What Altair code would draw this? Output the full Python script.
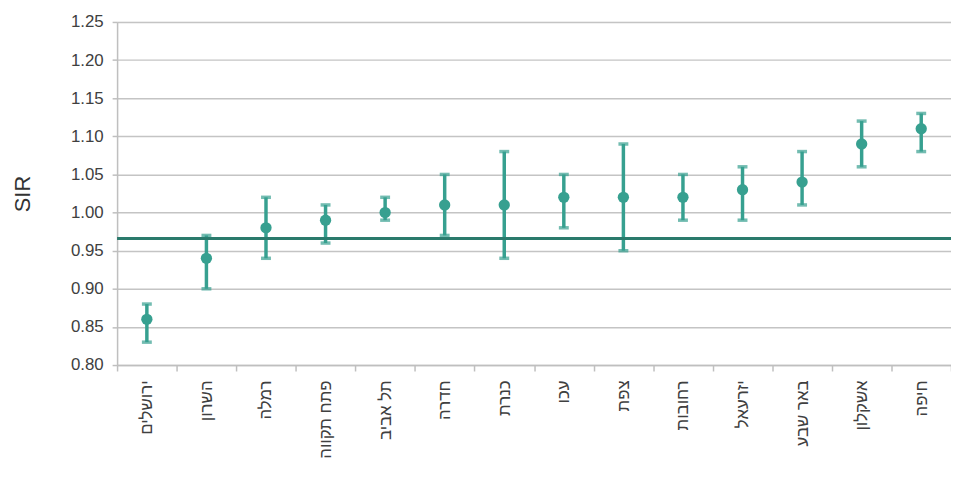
import altair as alt
import pandas as pd

regions = ["ירושלים", "השרון", "רמלה", "פתח תקווה", "תל אביב", "חדרה", "כנרת",
           "עכו", "צפת", "רחובות", "יזרעאל", "באר שבע", "אשקלון", "חיפה"]
sir = [0.86, 0.94, 0.98, 0.99, 1.00, 1.01, 1.01, 1.02, 1.02, 1.02, 1.03, 1.04, 1.09, 1.11]
ci_low = [0.83, 0.90, 0.94, 0.96, 0.99, 0.97, 0.94, 0.98, 0.95, 0.99, 0.99, 1.01, 1.06, 1.08]
ci_high = [0.88, 0.97, 1.02, 1.01, 1.02, 1.05, 1.08, 1.05, 1.09, 1.05, 1.06, 1.08, 1.12, 1.13]
reference_value = 0.966
y_ticks = [0.80, 0.85, 0.90, 0.95, 1.00, 1.05, 1.10, 1.15, 1.20, 1.25]

df = pd.DataFrame({"region": regions, "sir": sir, "lo": ci_low, "hi": ci_high})

W = 841
H = 346
point_color = "#37a090"
line_color = "#2a7a6c"
font = "Liberation Sans"

xaxis = alt.Axis(labelAngle=270, tickBand="extent", labelPadding=9,
                 labelAlign="right", labelBaseline="middle", labelLimit=200,
                 grid=False, labelFontSize=17, labelColor="#404040", labelFont=font,
                 tickSize=6, tickColor="#bfbfbf", tickWidth=1.5,
                 domainColor="#bfbfbf", domainWidth=1.5)
yscale = alt.Scale(domain=[0.80, 1.25], nice=False, zero=False)
yaxis = alt.Axis(values=y_ticks, format=".2f", labelOverlap=False, labelPadding=9,
                 labelFontSize=17, labelColor="#404040", labelFont=font,
                 tickSize=5, tickColor="#bfbfbf", tickWidth=1.5,
                 domainColor="#bfbfbf", domainWidth=1.5,
                 grid=True, gridColor="#c4c4c4", gridWidth=1.5,
                 title="SIR", titleFontSize=22, titleFont=font,
                 titleFontWeight="normal", titleColor="#333333", titlePadding=36)


def X():
    return alt.X("region:N", sort=regions, title=None,
                 scale=alt.Scale(paddingInner=0, paddingOuter=0), axis=xaxis)


def Y(field):
    return alt.Y(field, scale=yscale, axis=yaxis)


base = alt.Chart(df)

bars = base.mark_rule(color=point_color, strokeWidth=3.5).encode(
    x=X(), y=Y("lo:Q"), y2="hi:Q")

caps_lo = base.mark_tick(color=point_color, thickness=3.5, size=10, orient="horizontal").encode(
    x=X(), y=Y("lo:Q"))
caps_hi = base.mark_tick(color=point_color, thickness=3.5, size=10, orient="horizontal").encode(
    x=X(), y=Y("hi:Q"))

points = base.mark_point(filled=True, color=point_color, opacity=1, size=130).encode(
    x=X(), y=Y("sir:Q"))

ref = alt.Chart(pd.DataFrame({"v": [reference_value]})).mark_rule(
    color=line_color, strokeWidth=3).encode(
    y=Y("v:Q"), x=alt.value(0), x2=alt.value(W))

chart = alt.layer(bars, ref, caps_lo, caps_hi, points).properties(
    width=W, height=H,
    autosize=alt.AutoSizeParams(type="none"),
    padding={"left": 110, "top": 12, "right": 0, "bottom": 130},
).configure_view(stroke=None).configure(background="white")

chart.save("out.html", embed_options={"renderer": "svg", "actions": False})
